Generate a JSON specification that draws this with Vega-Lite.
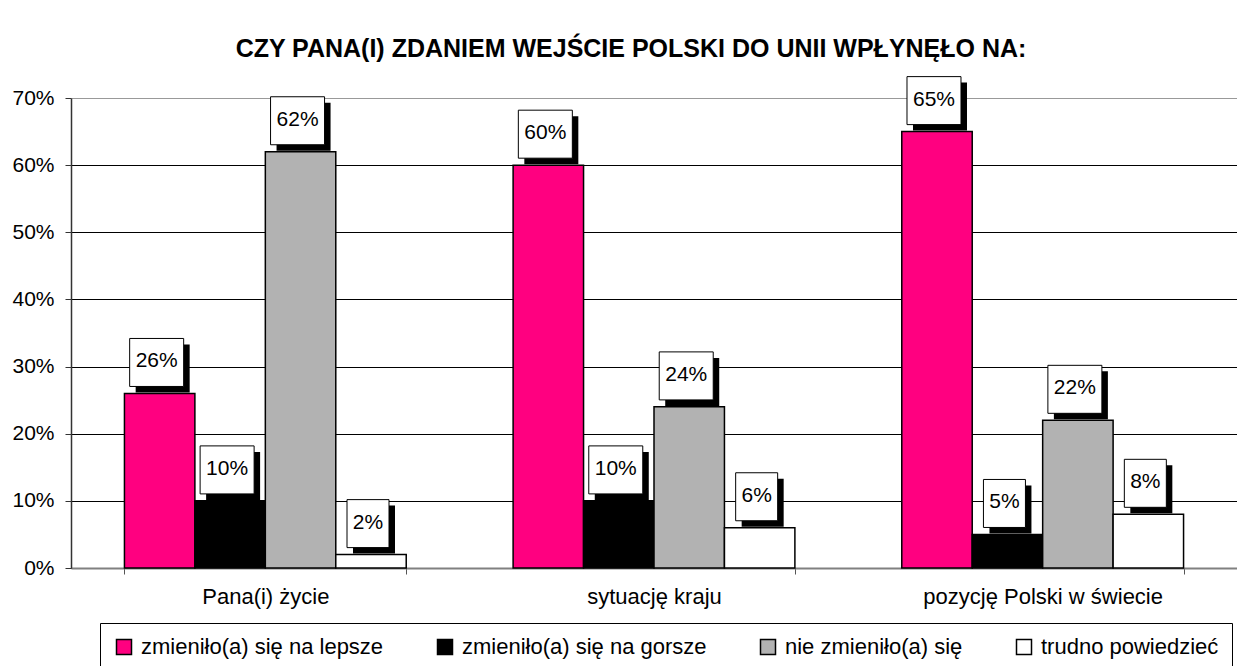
{
  "$schema": "https://vega.github.io/schema/vega-lite/v6.json",
  "width": 1166,
  "height": 470,
  "autosize": {"type": "none"},
  "padding": {"left": 71, "top": 98, "right": 0, "bottom": 98},
  "background": "white",
  "title": {
    "text": "CZY PANA(I) ZDANIEM WEJŚCIE POLSKI DO UNII WPŁYNĘŁO NA:",
    "fontSize": 25,
    "fontWeight": "bold",
    "color": "black",
    "anchor": "middle",
    "frame": "group",
    "dx": -23,
    "offset": -7,
    "baseline": "alphabetic"
  },
  "data": {
    "values": [
      {"category": "Pana(i) życie", "series": "zmieniło(a) się na lepsze", "value": 0.26},
      {"category": "Pana(i) życie", "series": "zmieniło(a) się na gorsze", "value": 0.10},
      {"category": "Pana(i) życie", "series": "nie zmieniło(a) się", "value": 0.62},
      {"category": "Pana(i) życie", "series": "trudno powiedzieć", "value": 0.02},
      {"category": "sytuację kraju", "series": "zmieniło(a) się na lepsze", "value": 0.60},
      {"category": "sytuację kraju", "series": "zmieniło(a) się na gorsze", "value": 0.10},
      {"category": "sytuację kraju", "series": "nie zmieniło(a) się", "value": 0.24},
      {"category": "sytuację kraju", "series": "trudno powiedzieć", "value": 0.06},
      {"category": "pozycję Polski w świecie", "series": "zmieniło(a) się na lepsze", "value": 0.65},
      {"category": "pozycję Polski w świecie", "series": "zmieniło(a) się na gorsze", "value": 0.05},
      {"category": "pozycję Polski w świecie", "series": "nie zmieniło(a) się", "value": 0.22},
      {"category": "pozycję Polski w świecie", "series": "trudno powiedzieć", "value": 0.08}
    ]
  },
  "encoding": {
    "x": {
      "field": "category",
      "type": "nominal",
      "sort": ["Pana(i) życie", "sytuację kraju", "pozycję Polski w świecie"],
      "scale": {"paddingInner": 0.275, "paddingOuter": 0.1375},
      "axis": {
        "title": null,
        "labelAngle": 0,
        "labelFontSize": 22,
        "labelColor": "black",
        "labelPadding": 12,
        "labelLimit": 400,
        "tickBand": "extent",
        "ticks": true,
        "tickSize": 6,
        "tickColor": "#555555",
        "domainColor": "#808080",
        "domainWidth": 2,
        "grid": false
      }
    },
    "xOffset": {
      "field": "series",
      "type": "nominal",
      "sort": ["zmieniło(a) się na lepsze", "zmieniło(a) się na gorsze", "nie zmieniło(a) się", "trudno powiedzieć"],
      "scale": {"paddingInner": 0, "paddingOuter": 0}
    },
    "y": {
      "field": "value",
      "type": "quantitative",
      "scale": {"domain": [0, 0.7], "nice": false},
      "axis": {
        "title": null,
        "values": [0, 0.1, 0.2, 0.3, 0.4, 0.5, 0.6, 0.7],
        "format": ".0%",
        "labelFontSize": 21,
        "labelColor": "black",
        "labelPadding": 11,
        "tickSize": 6,
        "tickColor": "#333333",
        "domainColor": "#333333",
        "domainWidth": 1.5,
        "grid": true,
        "gridColor": {"condition": {"test": "datum.value >= 0.69", "value": "#999999"}, "value": "black"},
        "gridWidth": 1
      }
    }
  },
  "layer": [
    {
      "mark": {"type": "bar", "stroke": "black", "strokeWidth": 1.5},
      "encoding": {
        "color": {
          "field": "series",
          "type": "nominal",
          "scale": {
            "domain": ["zmieniło(a) się na lepsze", "zmieniło(a) się na gorsze", "nie zmieniło(a) się", "trudno powiedzieć"],
            "range": ["#FF0080", "#000000", "#B2B2B2", "#FFFFFF"]
          },
          "legend": {
            "title": null,
            "orient": "none",
            "legendX": 29,
            "legendY": 525,
            "direction": "horizontal",
            "symbolType": "square",
            "symbolSize": 225,
            "symbolStrokeColor": "black",
            "symbolStrokeWidth": 1.5,
            "symbolOpacity": 1,
            "labelFontSize": 22,
            "labelColor": "black",
            "labelOffset": 6,
            "labelLimit": 500,
            "columnPadding": 50,
            "padding": 13,
            "strokeColor": "black",
            "fillColor": "white"
          }
        }
      }
    },
    {
      "mark": {"type": "point", "filled": true, "fill": "black", "strokeWidth": 0, "opacity": 1, "size": 2304},
      "encoding": {
        "shape": {
          "condition": {"test": "datum.value < 0.1", "value": "M-0.75,-2.04L1.0,-2.04L1.0,-0.04L-0.75,-0.04Z"},
          "value": "M-1.0,-2.04L1.25,-2.04L1.25,-0.04L-1.0,-0.04Z"
        }
      }
    },
    {
      "mark": {"type": "point", "filled": true, "fill": "white", "stroke": "black", "strokeWidth": 1, "opacity": 1, "size": 2304},
      "encoding": {
        "shape": {
          "condition": {"test": "datum.value < 0.1", "value": "M-1.0,-2.29L0.75,-2.29L0.75,-0.29L-1.0,-0.29Z"},
          "value": "M-1.25,-2.29L1.0,-2.29L1.0,-0.29L-1.25,-0.29Z"
        }
      }
    },
    {
      "mark": {"type": "text", "dx": -3, "dy": -32, "fontSize": 21, "baseline": "middle", "align": "center", "color": "black"},
      "encoding": {
        "text": {"field": "value", "type": "quantitative", "format": ".0%"}
      }
    }
  ],
  "config": {
    "font": "Liberation Sans",
    "view": {"stroke": null}
  }
}
